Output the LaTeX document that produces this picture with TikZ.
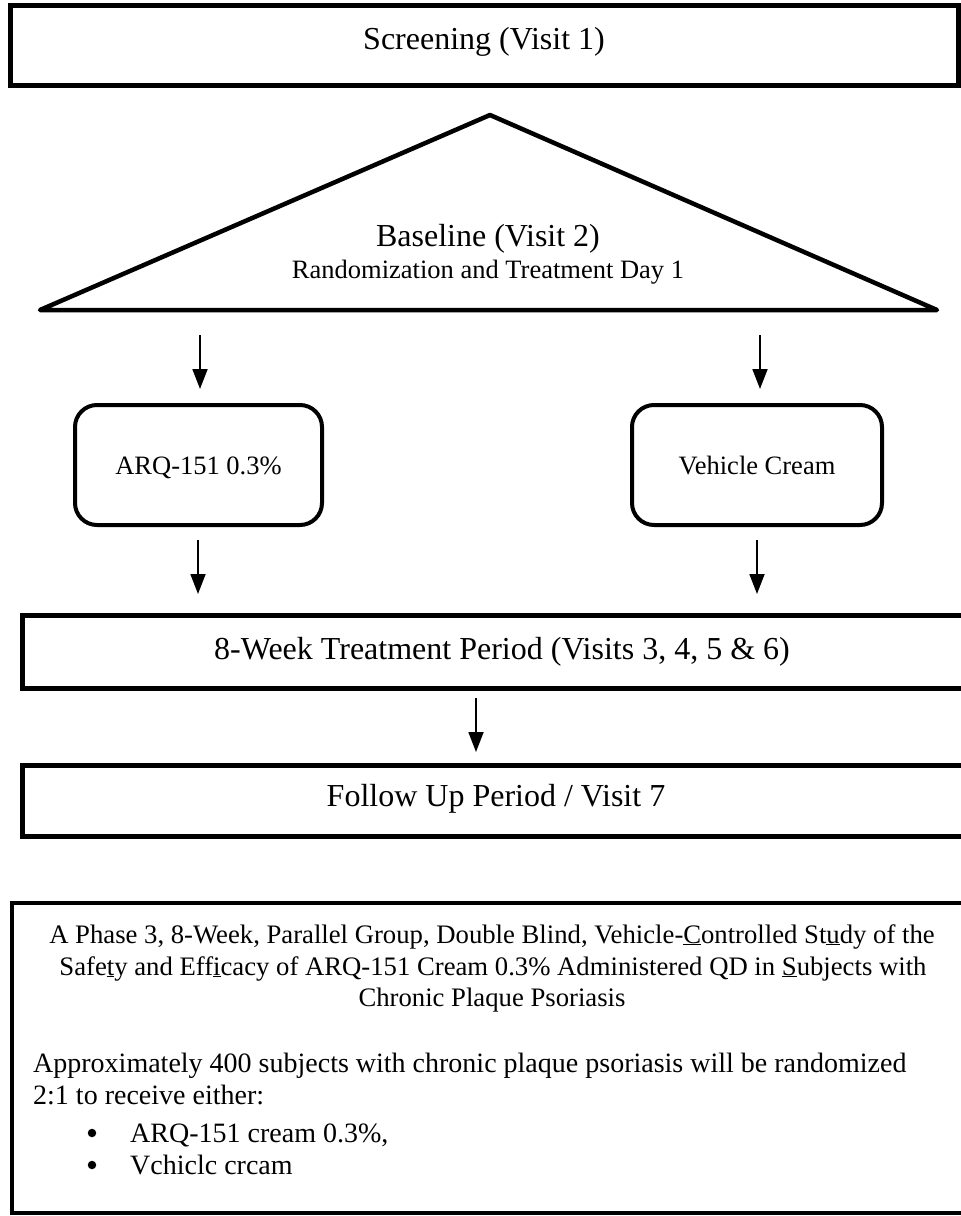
\documentclass[tikz,border=0pt]{standalone}
\usepackage{fontspec}
\setmainfont{Liberation Serif}
\usetikzlibrary{arrows.meta}
\begin{document}
\begin{tikzpicture}[x=1pt,y=-1pt,
  big/.style={font=\fontsize{32}{38}\selectfont, anchor=base, inner sep=0pt},
  mid/.style={font=\fontsize{26.5}{31}\selectfont, anchor=base, inner sep=0pt},
  ttl/.style={font=\fontsize{26.7}{31.5}\selectfont, anchor=base, inner sep=0pt},
  body/.style={font=\fontsize{28}{32}\selectfont, anchor=base west, inner sep=0pt},
  bul/.style={circle, fill, inner sep=0pt, minimum size=8.5pt},
  thickbox/.style={draw, line width=5pt, inner sep=0pt},
  rbox/.style={draw, line width=4pt, rounded corners=22pt, minimum width=247pt, minimum height=120pt, inner sep=0pt},
  arr/.style={line width=1.8pt, -{Triangle[width=15pt,length=20pt]}},
]
\useasboundingbox (0,0) rectangle (961,1216);
\clip (0,0) rectangle (961,1216);
\fill[white] (0,0) rectangle (961,1216);

% Screening
\node[thickbox, minimum width=948pt, minimum height=80pt] (scr) at (484,45) {};
\node[big] (scrt) at (484,49) {Screening (Visit 1)};

% Baseline triangle
\coordinate (apex) at (490,115);
\coordinate (tl) at (40,310);
\coordinate (tr) at (937,310);
\draw[line width=4.5pt, line join=round] (apex) -- (tr) -- (tl) -- cycle;
\node[big] (base1) at (488,246) {Baseline (Visit 2)};
\node[mid] (base2) at (488,278) {Randomization and Treatment Day 1};

% arrows to arms
\coordinate (a1s) at (200,335); \coordinate (a1e) at (200,389);
\coordinate (a2s) at (760,335); \coordinate (a2e) at (760,389);
\draw[arr] (a1s) -- (a1e);
\draw[arr] (a2s) -- (a2e);

% arms
\node[rbox] (arq) at (198.5,465) {};
\node[mid] (arqt) at (198.5,474) {ARQ-151 0.3\%};
\node[rbox, minimum width=250pt] (veh) at (757,465) {};
\node[mid] (veht) at (757,474) {Vehicle Cream};

\coordinate (b1s) at (198,540); \coordinate (b1e) at (198,594);
\coordinate (b2s) at (757,540); \coordinate (b2e) at (757,594);
\draw[arr] (b1s) -- (b1e);
\draw[arr] (b2s) -- (b2e);

% treatment period
\node[thickbox, minimum width=978pt, minimum height=73pt] (treat) at (511,651.5) {};
\node[big] (treatt) at (502,659) {8-Week Treatment Period (Visits 3, 4, 5 \& 6)};

\coordinate (cs) at (476,698); \coordinate (ce) at (476,752);
\draw[arr] (cs) -- (ce);

% follow up
\node[thickbox, minimum width=978pt, minimum height=71pt] (fu) at (511,800.5) {};
\node[big] (fut) at (496,806) {Follow Up Period / Visit 7};

% info box
\node[draw, line width=4pt, minimum width=988pt, minimum height=310pt, inner sep=0pt] (info) at (506,1058) {};
\node[ttl] (t1) at (492,943) {A Phase 3, 8-Week, Parallel Group, Double Blind, Vehicle-\underline{C}ontrolled St\underline{u}dy of the};
\node[ttl] (t2) at (493,975) {Safe\underline{t}y and Eff\underline{i}cacy of ARQ-151 Cream 0.3\% Administered QD in \underline{S}ubjects with};
\node[ttl] (t3) at (492,1006) {Chronic Plaque Psoriasis};
\node[body] (p1) at (33,1072) {Approximately 400 subjects with chronic plaque psoriasis will be randomized};
\node[body] (p2) at (33,1104) {2:1 to receive either:};
\node[bul] (bu1) at (92,1133) {};
\node[body] (l1) at (130,1142) {ARQ-151 cream 0.3\%,};
\node[bul] (bu2) at (92,1165) {};
\node[body] (l2) at (130,1174) {Vchiclc crcam};
\end{tikzpicture}
\end{document}
